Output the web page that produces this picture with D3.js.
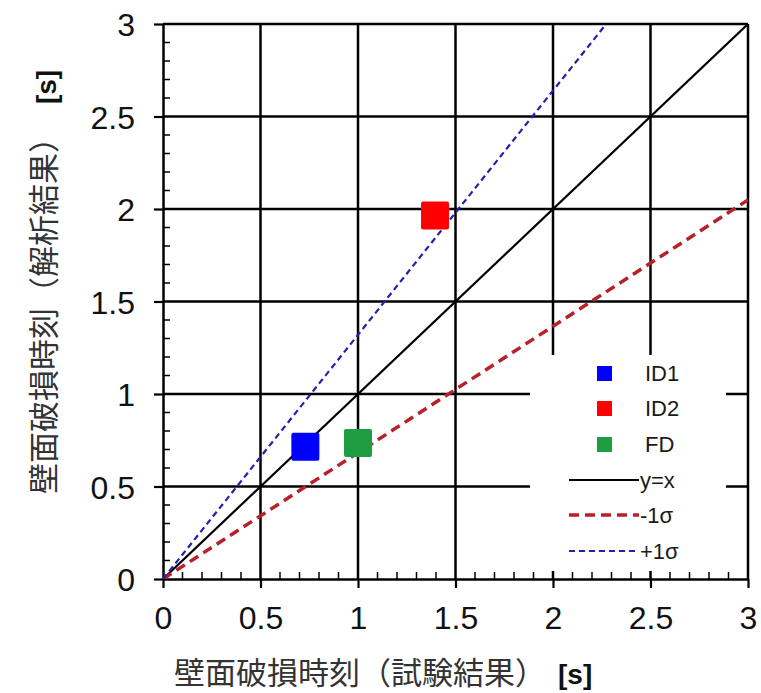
<!DOCTYPE html>
<html><head><meta charset="utf-8">
<script src="https://cdn.jsdelivr.net/npm/d3@7"></script>
<style>body{margin:0;background:#fff}</style>
</head><body>
<svg id="chart" width="761" height="693"></svg>
<script>
// ---- data ----
const seriesNames = ["ID1", "ID2", "FD"];
const seriesX = [0.73, 1.395, 1.0];
const seriesY = [0.715, 1.965, 0.735];
const seriesColors = ["#0000ff", "#ff0000", "#1e9e40"];

const lineNames = ["y=x", "-1σ", "+1σ"];
const lineSlopes = [1, 0.683, 1.32];
const lineColors = ["#000000", "#b8202a", "#2222b0"];
const lineWidths = [2.2, 3.5, 2.2];
const lineDash = [null, "10,6", "6,4"];

const tickValues = [0, 0.5, 1, 1.5, 2, 2.5, 3];
const tickLabels = ["0", "0.5", "1", "1.5", "2", "2.5", "3"];
const minorTicks = d3.range(0, 3.0001, 0.1).map(v => +v.toFixed(1)).filter(v => Math.abs(v*2 - Math.round(v*2)) > 1e-6);

const xTitle = "壁面破損時刻（試験結果）";
const yTitle = "壁面破損時刻（解析結果）";
const unit = "[s]";

// ---- layout ----
const svg = d3.select("#chart");
const L = 163, R = 748, T = 24, B = 579;
const x = d3.scaleLinear().domain([0, 3]).range([L, R]);
const y = d3.scaleLinear().domain([0, 3]).range([B, T]);

svg.append("defs").append("clipPath").attr("id", "plotclip")
  .append("rect").attr("x", L).attr("y", T).attr("width", R - L).attr("height", B - T);

// grid
const grid = svg.append("g");
grid.selectAll(".gv").data(tickValues.slice(1)).join("line")
  .attr("x1", d => x(d)).attr("x2", d => x(d)).attr("y1", T).attr("y2", B)
  .attr("stroke", "#000").attr("stroke-width", 2.5);
grid.selectAll(".gh").data(tickValues.slice(1)).join("line")
  .attr("y1", d => y(d)).attr("y2", d => y(d)).attr("x1", L).attr("x2", R)
  .attr("stroke", "#000").attr("stroke-width", 2.5);

// legend background (covers grid)
const legX = 530, legY = 355, legW = 196, legH = 216;
svg.append("rect").attr("x", legX).attr("y", legY).attr("width", legW).attr("height", legH).attr("fill", "#fff");

// axes
const xAxis = d3.axisBottom(x).tickValues(tickValues).tickFormat((d, i) => tickLabels[i]).tickSize(9).tickSizeOuter(0);
const yAxis = d3.axisLeft(y).tickValues(tickValues).tickFormat((d, i) => tickLabels[i]).tickSize(9).tickSizeOuter(0);
const gx = svg.append("g").attr("transform", `translate(0,${B})`).call(xAxis);
const gy = svg.append("g").attr("transform", `translate(${L},0)`).call(yAxis);
[gx, gy].forEach(g => {
  g.select(".domain").attr("stroke", "#000").attr("stroke-width", 2.5);
  g.selectAll(".tick line").attr("stroke", "#000").attr("stroke-width", 2.2);
  g.selectAll(".tick text").attr("fill", "#111").style("font-family", "'Liberation Sans', Arial, sans-serif").style("font-size", "32px");
});
gx.selectAll(".tick text").attr("dy", null).attr("y", 50);
gy.selectAll(".tick text").attr("text-anchor", "end").attr("x", -28).attr("dy", "0.36em");

// minor ticks (inward)
svg.append("g").selectAll("line").data(minorTicks).join("line")
  .attr("x1", d => x(d)).attr("x2", d => x(d)).attr("y1", B).attr("y2", B - 7)
  .attr("stroke", "#000").attr("stroke-width", 1.5);
svg.append("g").selectAll("line").data(minorTicks).join("line")
  .attr("y1", d => y(d)).attr("y2", d => y(d)).attr("x1", L).attr("x2", L + 7)
  .attr("stroke", "#000").attr("stroke-width", 1.5);

// reference lines
const lines = svg.append("g").attr("clip-path", "url(#plotclip)");
lineSlopes.forEach((s, i) => {
  const xe = Math.min(3, 3 / s);
  lines.append("line")
    .attr("x1", x(0)).attr("y1", y(0)).attr("x2", x(xe)).attr("y2", y(xe * s))
    .attr("stroke", lineColors[i]).attr("stroke-width", lineWidths[i])
    .attr("stroke-dasharray", lineDash[i]);
});

// points
const sq = 28;
svg.append("g").selectAll("rect").data(seriesNames).join("rect")
  .attr("x", (d, i) => x(seriesX[i]) - sq / 2)
  .attr("y", (d, i) => y(seriesY[i]) - sq / 2)
  .attr("width", sq).attr("height", sq).attr("rx", 2)
  .attr("fill", (d, i) => seriesColors[i]);

// legend
const leg = svg.append("g").style("font-family", "'Liberation Sans', Arial, sans-serif").style("font-size", "22px");
const rowY = [373, 408, 444, 480, 515, 551];
seriesNames.forEach((n, i) => {
  leg.append("rect").attr("x", 597).attr("y", rowY[i] - 7).attr("width", 15).attr("height", 15)
    .attr("fill", seriesColors[i]);
  leg.append("text").attr("x", 645).attr("y", rowY[i]).attr("dy", "0.36em").attr("fill", "#1a1a1a").text(n);
});
lineNames.forEach((n, j) => {
  const i = j + 3;
  leg.append("line").attr("x1", 569).attr("x2", 639).attr("y1", rowY[i]).attr("y2", rowY[i])
    .attr("stroke", lineColors[j]).attr("stroke-width", lineWidths[j]).attr("stroke-dasharray", lineDash[j]);
  leg.append("text").attr("x", 640).attr("y", rowY[i]).attr("dy", "0.36em").attr("fill", "#1a1a1a").text(n);
});

// axis titles
svg.append("text").attr("x", 174).attr("y", 684)
  .style("font-family", "'Noto Sans CJK JP', sans-serif").style("font-size", "31px").attr("fill", "#333")
  .text(xTitle);
svg.append("text").attr("x", 558).attr("y", 684)
  .style("font-family", "'Liberation Sans', Arial, sans-serif").style("font-size", "28px").style("font-weight", "bold").attr("fill", "#111")
  .text(unit);
svg.append("text").attr("transform", "translate(55,494) rotate(-90)")
  .style("font-family", "'Noto Sans CJK JP', sans-serif").style("font-size", "31px").attr("fill", "#333")
  .text(yTitle);
svg.append("text").attr("transform", "translate(56,87) rotate(-90)").attr("text-anchor", "middle")
  .style("font-family", "'Liberation Sans', Arial, sans-serif").style("font-size", "28px").style("font-weight", "bold").attr("fill", "#111")
  .text(unit);
</script>
</body></html>
